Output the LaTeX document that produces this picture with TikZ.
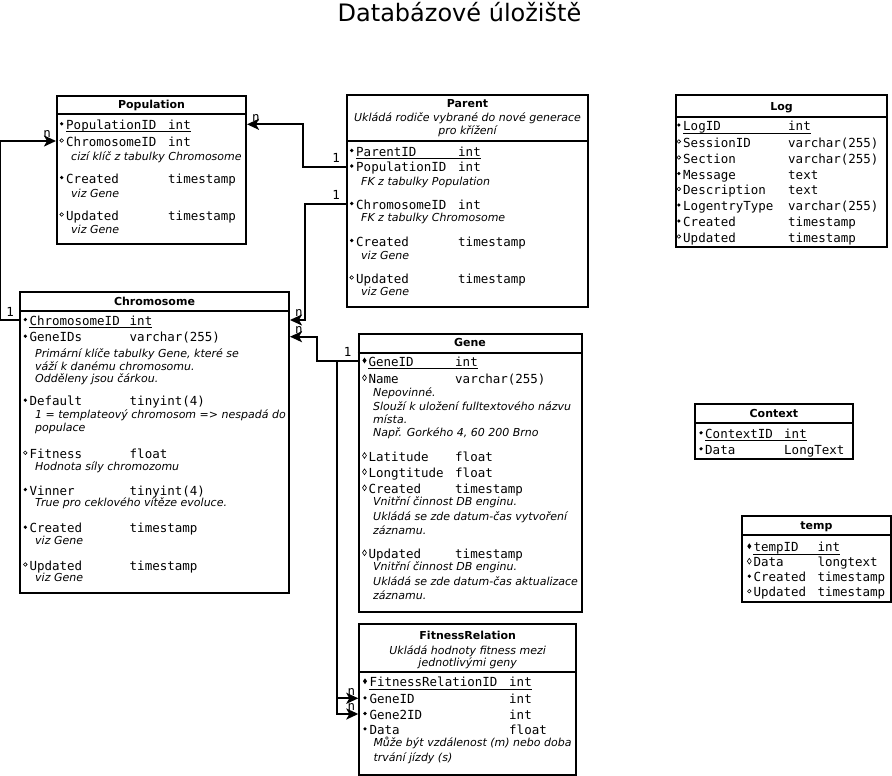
\documentclass[tikz,border=0pt]{standalone}
\usepackage{fontspec}
\setmainfont{DejaVu Sans}
\setmonofont{DejaVu Sans Mono}
\usepackage{tikz}
\usetikzlibrary{arrows.meta,fit,shapes.geometric}
\tikzset{
    every picture/.style={line join=miter},
    tbl/.style={draw,line width=2pt,inner sep=0pt},
    sep/.style={line width=2pt},
    ttl/.style={anchor=base,inner sep=0pt,font=\fontsize{11}{13}\selectfont\bfseries},
    hcmt/.style={anchor=base,inner sep=0pt,font=\fontsize{11}{13}\selectfont\itshape},
    fld/.style={anchor=base west,inner sep=0pt,text height=10pt,text depth=0pt,
      font=\fontsize{12.5}{15}\selectfont\ttfamily},
    cmt/.style={anchor=base west,inner sep=0pt,font=\fontsize{11}{13}\selectfont\itshape},
    card/.style={inner sep=0pt,font=\fontsize{12.5}{15}\selectfont\ttfamily},
    ul/.style={line width=1pt},
    mk/.style={circle,fill,inner sep=0pt,minimum size=3.6pt},
    op/.style={circle,draw,line width=0.6pt,inner sep=0pt,minimum size=3.6pt},
    mkd/.style={diamond,fill,inner sep=0pt,minimum width=4.2pt,minimum height=6pt},
    opd/.style={diamond,draw,line width=0.6pt,inner sep=0pt,minimum width=4.2pt,minimum height=6pt},
    conn/.style={-{Stealth[length=12pt,width=11pt,inset=3pt]},line width=2pt}
}
\begin{document}
\begin{tikzpicture}[x=1pt,y=-1pt]
  \useasboundingbox (0,0) rectangle (892,776);
  \node[anchor=base,font=\fontsize{24}{28}\selectfont] (head) at (459.5,22) {Databázové úložiště};

  \node[tbl,fit={(57,96) (246,244)}] (pop) {};
  \node[ttl] (popT) at (151.5,109) {Population};
  \draw[sep] (pop.west |- 0,114) -- (pop.east |- 0,114);
  \foreach \n/\m/\f/\t/\y in {1/mk/PopulationID/int/129.3, 2/op/ChromosomeID/int/146,
      3/mk/Created/timestamp/183, 4/op/Updated/timestamp/220} {
    \node[\m] (popm\n) at (61.7,\y-5.5) {};
    \node[fld] (pop\n) at (66,\y) {\f};
    \node[fld] (popt\n) at (168,\y) {\t};
  }
  \draw[ul] ([yshift=-2.5pt]pop1.base west) -- ([yshift=-2.5pt]popt1.base east);
  \foreach \y/\c [count=\i] in {160/cizí klíč z tabulky Chromosome, 197/viz Gene, 233.5/viz Gene}
    \node[cmt] (popc\i) at (71,\y) {\c};

  \node[tbl,fit={(347,95) (588,307)}] (par) {};
  \node[ttl] (parT) at (467.5,107) {Parent};
  \node[hcmt] (parH1) at (467.5,121.5) {Ukládá rodiče vybrané do nové generace};
  \node[hcmt] (parH2) at (467.5,135) {pro křížení};
  \draw[sep] (par.west |- 0,141) -- (par.east |- 0,141);
  \foreach \n/\m/\f/\t/\y in {1/mk/ParentID/int/156, 2/mk/PopulationID/int/171.5,
      3/mk/ChromosomeID/int/209, 4/mk/Created/timestamp/246, 5/op/Updated/timestamp/283} {
    \node[\m] (parm\n) at (351.7,\y-5.5) {};
    \node[fld] (par\n) at (356,\y) {\f};
    \node[fld] (part\n) at (458,\y) {\t};
  }
  \draw[ul] ([yshift=-2.5pt]par1.base west) -- ([yshift=-2.5pt]part1.base east);
  \foreach \y/\c [count=\i] in {185/FK z tabulky Population, 221/FK z tabulky Chromosome,
      259/viz Gene, 295/viz Gene}
    \node[cmt] (parc\i) at (361,\y) {\c};

  \node[tbl,fit={(676,95) (887,247)}] (log) {};
  \node[ttl] (logT) at (781.5,110.7) {Log};
  \draw[sep] (log.west |- 0,116.7) -- (log.east |- 0,116.7);
  \foreach \n/\m/\f/\t/\y in {1/mk/LogID/int/130.5, 2/op/SessionID/varchar(255)/147,
      3/op/Section/varchar(255)/163, 4/mk/Message/text/179, 5/op/Description/text/194.5,
      6/mk/LogentryType/varchar(255)/210.5, 7/mk/Created/timestamp/226.5,
      8/op/Updated/timestamp/242} {
    \node[\m] (logm\n) at (678.8,\y-5.5) {};
    \node[fld] (log\n) at (683,\y) {\f};
    \node[fld] (logt\n) at (788,\y) {\t};
  }
  \draw[ul] ([yshift=-2.5pt]log1.base west) -- ([yshift=-2.5pt]logt1.base east);

  \node[tbl,fit={(20,292) (289,593)}] (chr) {};
  \node[ttl] (chrT) at (154.5,305) {Chromosome};
  \draw[sep] (chr.west |- 0,310.5) -- (chr.east |- 0,310.5);
  \foreach \n/\m/\f/\t/\y in {1/mk/ChromosomeID/int/325, 2/mk/GeneIDs/varchar(255)/341.7,
      3/mk/Default/tinyint(4)/405.7, 4/op/Fitness/float/458.3, 5/mk/Vinner/tinyint(4)/495,
      6/mk/Created/timestamp/532.7, 7/op/Updated/timestamp/570} {
    \node[\m] (chrm\n) at (25.3,\y-5.5) {};
    \node[fld] (chr\n) at (29.3,\y) {\f};
    \node[fld] (chrt\n) at (129.5,\y) {\t};
  }
  \draw[ul] ([yshift=-2.5pt]chr1.base west) -- ([yshift=-2.5pt]chrt1.base east);
  \foreach \y/\c [count=\i] in {357.7/{Primární klíče tabulky Gene, které se},
      370/váží k danému chromosomu., 382.3/Odděleny jsou čárkou.,
      418.3/1 = templateový chromosom => nespadá do, 431.7/populace,
      470/Hodnota síly chromozomu, 506.7/True pro ceklového vítěze evoluce.,
      544/viz Gene, 581/viz Gene}
    \node[cmt] (chrc\i) at (35,\y) {\c};

  \node[tbl,fit={(358.5,334) (581.5,611.5)}] (gen) {};
  \node[ttl] (genT) at (470,346.7) {Gene};
  \draw[sep] (gen.west |- 0,352.7) -- (gen.east |- 0,352.7);
  \foreach \n/\m/\f/\t/\y in {1/mkd/GeneID/int/366, 2/opd/Name/varchar(255)/383.3,
      3/opd/Latitude/float/461, 4/opd/Longtitude/float/477.3,
      5/opd/Created/timestamp/493.3, 6/opd/Updated/timestamp/558.3} {
    \node[\m] (genm\n) at (364.5,\y-5.5) {};
    \node[fld] (gen\n) at (368.3,\y) {\f};
    \node[fld] (gent\n) at (455,\y) {\t};
  }
  \draw[ul] ([yshift=-2.5pt]gen1.base west) -- ([yshift=-2.5pt]gent1.base east);
  \foreach \y/\c [count=\i] in {396.7/Nepovinné., 410/Slouží k uložení fulltextového názvu,
      423.3/místa., 436.7/{Např. Gorkého 4, 60 200 Brno},
      505/Vnitřní činnost DB enginu., 520/Ukládá se zde datum-čas vytvoření, 534/záznamu.,
      570/Vnitřní činnost DB enginu., 585/Ukládá se zde datum-čas aktualizace, 599.3/záznamu.}
    \node[cmt] (genc\i) at (373,\y) {\c};

  \node[tbl,fit={(359.3,624) (576,775)}] (fr) {};
  \node[ttl] (frT) at (467.7,639.3) {FitnessRelation};
  \node[hcmt] (frH1) at (467.7,654.3) {Ukládá hodnoty fitness mezi};
  \node[hcmt] (frH2) at (467.7,666.7) {jednotlivými geny};
  \draw[sep] (fr.west |- 0,672.3) -- (fr.east |- 0,672.3);
  \foreach \n/\m/\f/\t/\y in {1/mkd/FitnessRelationID/int/686.7, 2/mk/GeneID/int/703.3,
      3/mk/Gene2ID/int/719, 4/mk/Data/float/734.3} {
    \node[\m] (frm\n) at (365,\y-5.5) {};
    \node[fld] (fr\n) at (369.3,\y) {\f};
    \node[fld] (frt\n) at (509,\y) {\t};
  }
  \draw[ul] ([yshift=-2.5pt]fr1.base west) -- ([yshift=-2.5pt]frt1.base east);
  \foreach \y/\c [count=\i] in {746.7/Může být vzdálenost (m) nebo doba, 761.7/trvání jízdy (s)}
    \node[cmt] (frc\i) at (373.3,\y) {\c};

  \node[tbl,fit={(695,404) (852.7,459.3)}] (ctx) {};
  \node[ttl] (ctxT) at (773.9,417.3) {Context};
  \draw[sep] (ctx.west |- 0,422.7) -- (ctx.east |- 0,422.7);
  \foreach \n/\m/\f/\t/\y in {1/mk/ContextID/int/438.3, 2/mk/Data/LongText/454.3} {
    \node[\m] (ctxm\n) at (701,\y-5.5) {};
    \node[fld] (ctx\n) at (705,\y) {\f};
    \node[fld] (ctxt\n) at (784,\y) {\t};
  }
  \draw[ul] ([yshift=-2.5pt]ctx1.base west) -- ([yshift=-2.5pt]ctxt1.base east);

  \node[tbl,fit={(742,516) (891,602.3)}] (tmp) {};
  \node[ttl] (tmpT) at (816.5,529.5) {temp};
  \draw[sep] (tmp.west |- 0,535) -- (tmp.east |- 0,535);
  \foreach \n/\m/\f/\t/\y in {1/mkd/tempID/int/551.7, 2/opd/Data/longtext/566.7,
      3/mk/Created/timestamp/581.7, 4/op/Updated/timestamp/596.7} {
    \node[\m] (tmpm\n) at (749.3,\y-5.5) {};
    \node[fld] (tmp\n) at (753.3,\y) {\f};
    \node[fld] (tmpt\n) at (817.3,\y) {\t};
  }
  \draw[ul] ([yshift=-2.5pt]tmp1.base west) -- ([yshift=-2.5pt]tmpt1.base east);

  \draw[conn] (par.west |- par2) -- ++(-43,0) |- (pop.east |- pop1);
  \node[card,anchor=south east] (c1a) at ([xshift=-6pt,yshift=4pt]par.west |- par2) {1};
  \node[card,anchor=south west] (c1b) at ([xshift=5pt,yshift=3pt]pop.east |- pop1) {n};
  \draw[conn] (par.west |- par3) -- ++(-41,0) |- (chr.east |- chr1);
  \node[card,anchor=south east] (c2a) at ([xshift=-6pt,yshift=4pt]par.west |- par3) {1};
  \node[card,anchor=south west] (c2b) at ([xshift=5pt,yshift=3pt]chr.east |- chr1) {n};
  \draw[conn] (gen.west |- gen1) -- ++(-40.5,0) |- (chr.east |- chr2);
  \node[card,anchor=south east] (c3a) at ([xshift=-6pt,yshift=4pt]gen.west |- gen1) {1};
  \node[card,anchor=south west] (c3b) at ([xshift=5pt,yshift=3pt]chr.east |- chr2) {n};
  \draw[conn] (gen.west |- gen1) -- ++(-21,0) |- (fr.west |- fr2);
  \node[card,anchor=south east] (c4) at ([xshift=-3pt,yshift=3pt]fr.west |- fr2) {n};
  \draw[conn] (gen.west |- gen1) -- ++(-21,0) |- (fr.west |- fr3);
  \node[card,anchor=south east] (c5) at ([xshift=-3pt,yshift=3pt]fr.west |- fr3) {n};
  \draw[conn] (chr.west |- chr1) -- ++(-19,0) |- (pop.west |- pop2);
  \node[card,anchor=south east] (c6a) at ([xshift=-5pt,yshift=3pt]chr.west |- chr1) {1};
  \node[card,anchor=south east] (c6b) at ([xshift=-5pt,yshift=3pt]pop.west |- pop2) {n};
\end{tikzpicture}
\end{document}
